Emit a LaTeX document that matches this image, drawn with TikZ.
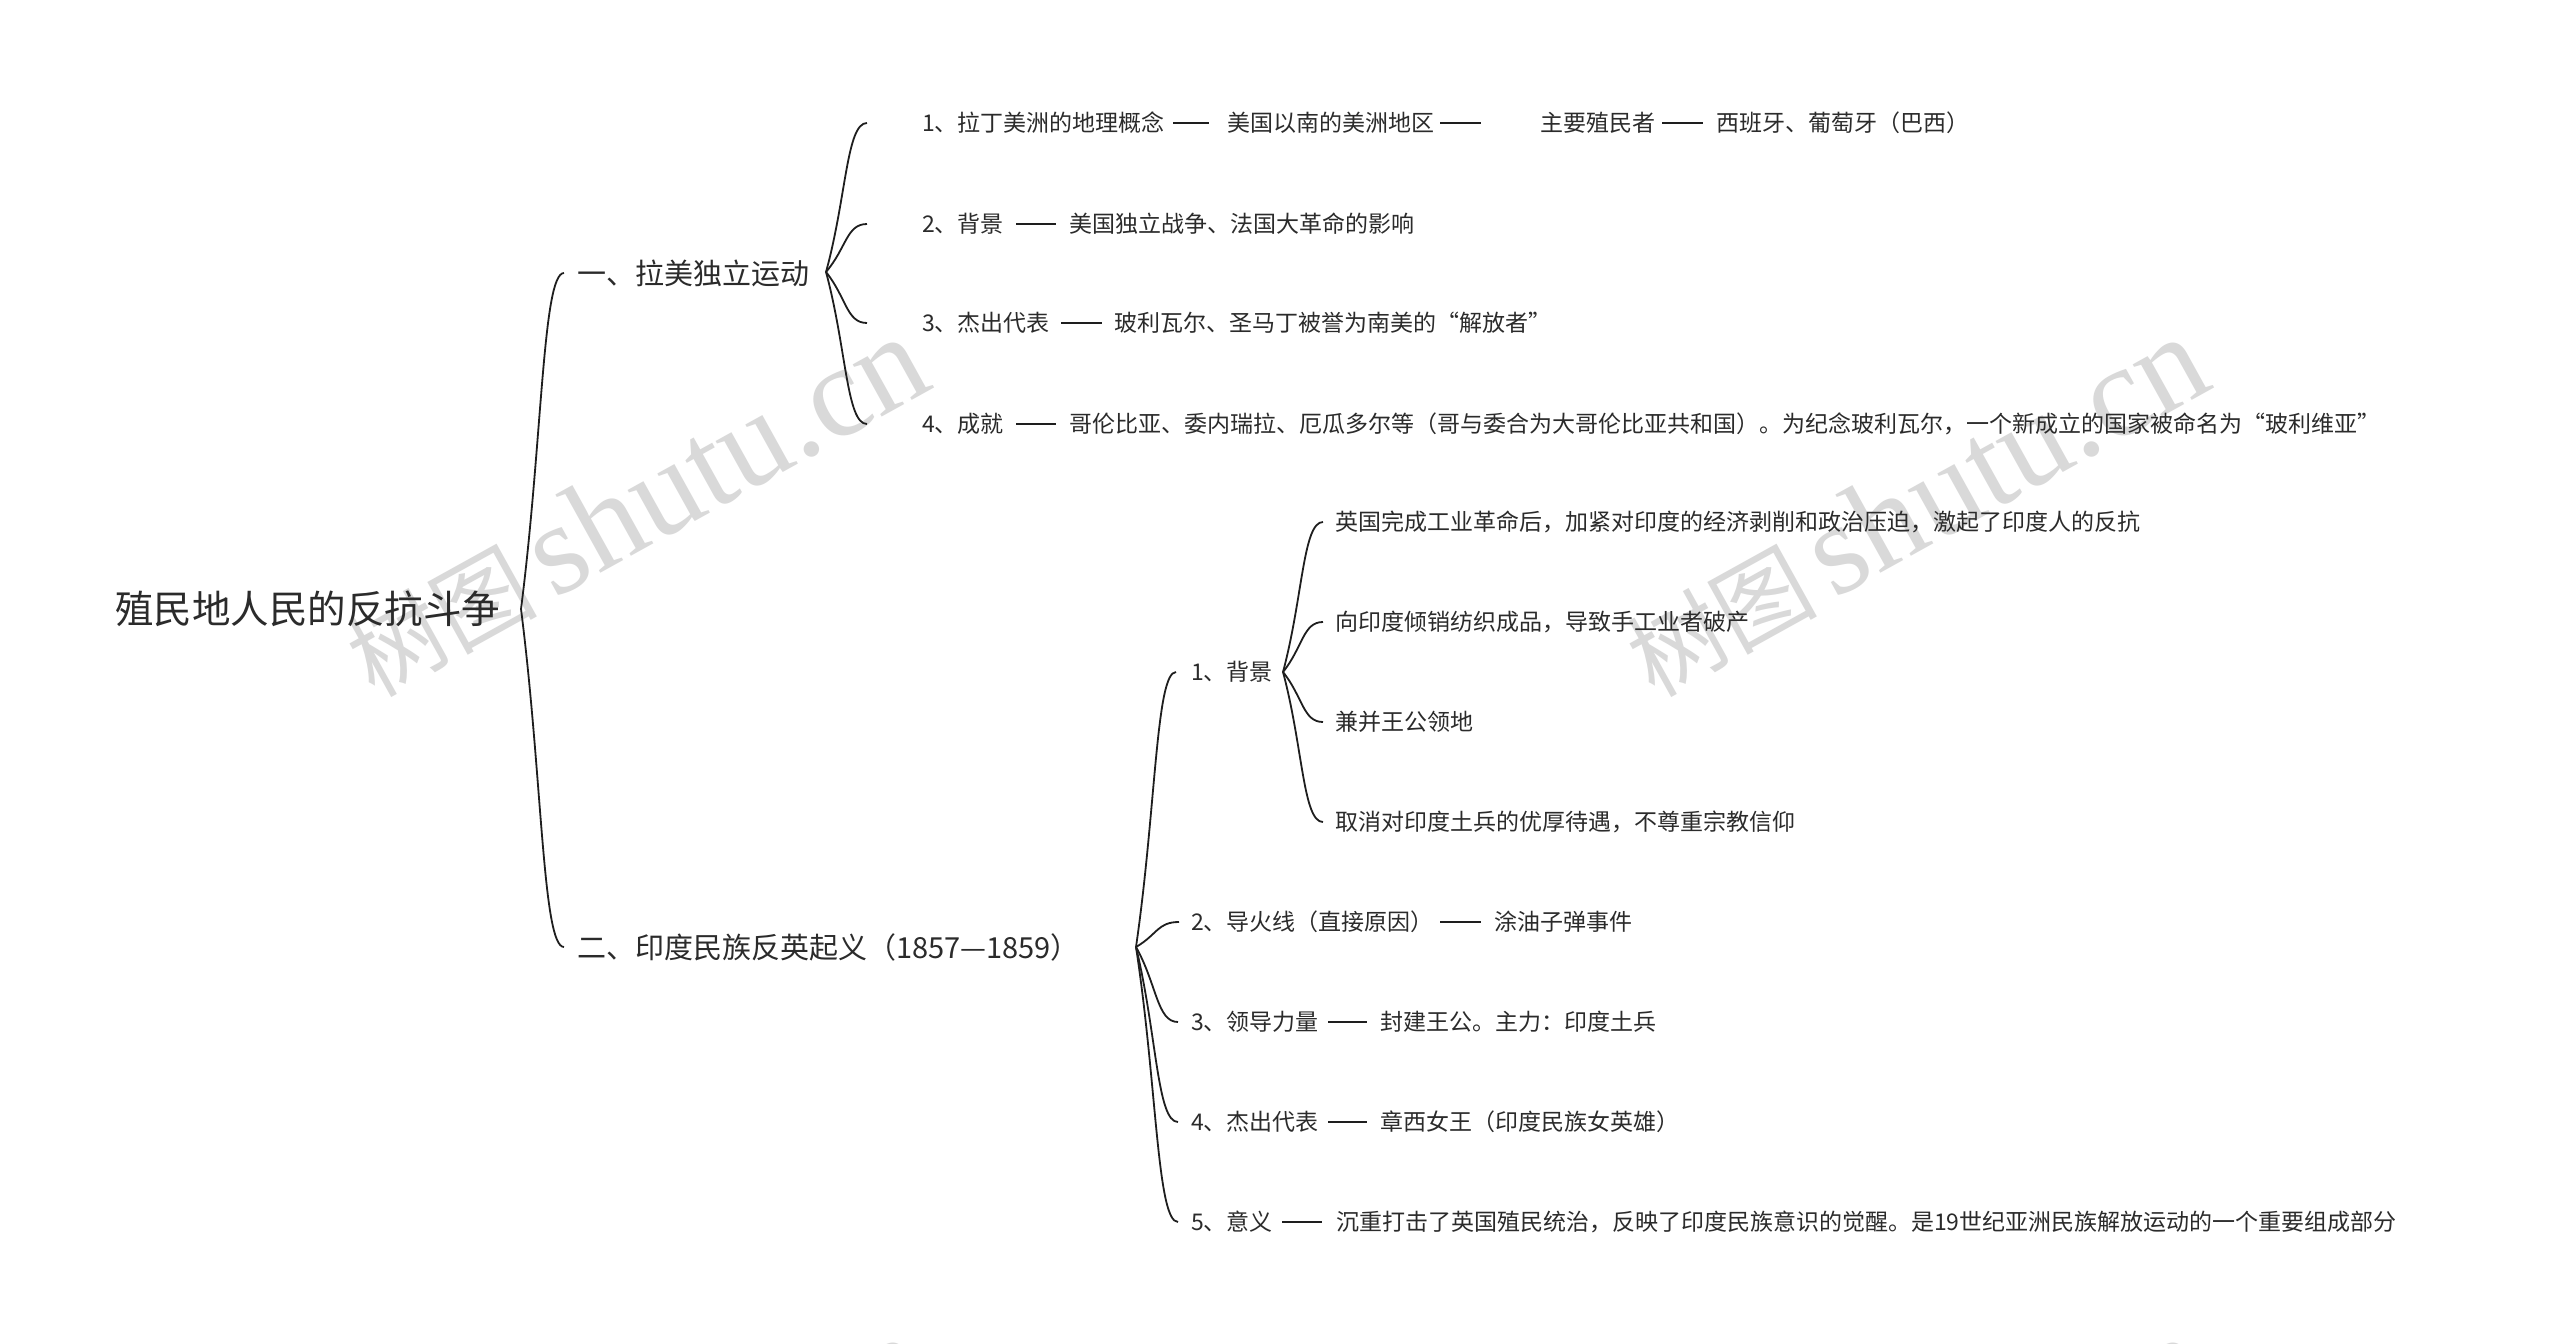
\documentclass[tikz,border=0pt]{standalone}
\usepackage{fontspec}
\setmainfont{Noto Sans CJK SC}
\newfontfamily\wmlatin{Liberation Serif}
\usetikzlibrary{calc}
\definecolor{txt}{HTML}{2B2B2B}
\definecolor{wm}{HTML}{D9D9D9}
\definecolor{ln}{HTML}{1E1E1E}
\newcommand\brc[2]{\draw[conn] let \p1=(#1), \p2=(#2) in (\p1) .. controls ({(\x1+\x2)/2},{(\y1+\y2)/2}) and ({(\x1+\x2)/2},\y2) .. (\p2);}
\begin{document}
\begin{tikzpicture}[x=1pt,y=-1pt,
  t/.style={anchor=west,inner sep=0pt,text=txt,font=\fontsize{23}{28}\selectfont},
  lone/.style={t,font=\fontsize{29}{35}\selectfont},
  rt/.style={t,font=\fontsize{38.5}{46}\selectfont},
  conn/.style={draw=ln,line width=1.8},
  wmk/.style={anchor=base west,inner sep=0pt,text=wm,rotate=29}]
\useasboundingbox[fill=white] (0,0) rectangle (2560,1344);
% watermarks
\begin{scope}
\clip (0,0) rectangle (2560,1344);
\foreach \dx/\dy [count=\i] in {0/0,1280/0,0/1000,1280/1000}{
  \node[wmk] (wm\i) at (374+\dx,699+\dy) {\fontsize{95}{100}\selectfont 树图\,\wmlatin\fontsize{130}{135}\selectfont shutu.cn};
}
\end{scope}
% root and level 1
\node[rt] (root) at (115,609) {殖民地人民的反抗斗争};
\node[lone] (la) at (577,273) {一、拉美独立运动};
\node[lone] (in) at (577,947) {二、印度民族反英起义（1857—1859）};
% Latin America
\node[t] (a1) at (922,123) {1、拉丁美洲的地理概念};
\node[t] (a1b) at (1227,123) {美国以南的美洲地区};
\node[t] (a1c) at (1540,123) {主要殖民者};
\node[t] (a1d) at (1716,123) {西班牙、葡萄牙（巴西）};
\node[t] (a2) at (922,224) {2、背景};
\node[t] (a2b) at (1069,224) {美国独立战争、法国大革命的影响};
\node[t] (a3) at (922,323) {3、杰出代表};
\node[t] (a3b) at (1114,323) {玻利瓦尔、圣马丁被誉为南美的“解放者”};
\node[t] (a4) at (922,424) {4、成就};
\node[t] (a4b) at (1069,424) {哥伦比亚、委内瑞拉、厄瓜多尔等（哥与委合为大哥伦比亚共和国）。为纪念玻利瓦尔，一个新成立的国家被命名为“玻利维亚”};
% India
\node[t] (b1) at (1191,672) {1、背景};
\node[t] (b11) at (1335,522) {英国完成工业革命后，加紧对印度的经济剥削和政治压迫，激起了印度人的反抗};
\node[t] (b12) at (1335,622) {向印度倾销纺织成品，导致手工业者破产};
\node[t] (b13) at (1335,722) {兼并王公领地};
\node[t] (b14) at (1335,822) {取消对印度土兵的优厚待遇，不尊重宗教信仰};
\node[t] (b2) at (1191,922) {2、导火线（直接原因）};
\node[t] (b2b) at (1494,922) {涂油子弹事件};
\node[t] (b3) at (1191,1022) {3、领导力量};
\node[t] (b3b) at (1380,1022) {封建王公。主力：印度土兵};
\node[t] (b4) at (1191,1122) {4、杰出代表};
\node[t] (b4b) at (1380,1122) {章西女王（印度民族女英雄）};
\node[t] (b5) at (1191,1222) {5、意义};
\node[t] (b5b) at (1336,1222) {沉重打击了英国殖民统治，反映了印度民族意识的觉醒。是19世纪亚洲民族解放运动的一个重要组成部分};
% inline connectors
\draw[conn] ([xshift=8]a1.east) -- ([xshift=-18]a1b.west);
\draw[conn] ([xshift=6]a1b.east) -- ([xshift=-59]a1c.west);
\draw[conn] ([xshift=7]a1c.east) -- ([xshift=-13]a1d.west);
\draw[conn] ([xshift=12]a2.east) -- ([xshift=-13]a2b.west);
\draw[conn] ([xshift=11]a3.east) -- ([xshift=-12]a3b.west);
\draw[conn] ([xshift=12]a4.east) -- ([xshift=-13]a4b.west);
\draw[conn] ([xshift=6]b2.east) -- ([xshift=-13]b2b.west);
\draw[conn] ([xshift=9]b3.east) -- ([xshift=-13]b3b.west);
\draw[conn] ([xshift=9]b4.east) -- ([xshift=-13]b4b.west);
\draw[conn] ([xshift=9]b5.east) -- ([xshift=-14]b5b.west);
% brace tips
\coordinate (tR) at (521,609);
\coordinate (tA) at (826,272);
\coordinate (tB) at (1136,947);
\coordinate (tB1) at (1283,672);
\brc{tR}{[xshift=-13]la.west}
\brc{tR}{[xshift=-13]in.west}
\brc{tA}{[xshift=-55]a1.west}
\brc{tA}{[xshift=-55]a2.west}
\brc{tA}{[xshift=-55]a3.west}
\brc{tA}{[xshift=-55]a4.west}
\brc{tB}{[xshift=-15]b1.west}
\brc{tB}{[xshift=-12]b2.west}
\brc{tB}{[xshift=-13]b3.west}
\brc{tB}{[xshift=-13]b4.west}
\brc{tB}{[xshift=-13]b5.west}
\brc{tB1}{[xshift=-12]b11.west}
\brc{tB1}{[xshift=-12]b12.west}
\brc{tB1}{[xshift=-12]b13.west}
\brc{tB1}{[xshift=-12]b14.west}
\end{tikzpicture}
\end{document}
